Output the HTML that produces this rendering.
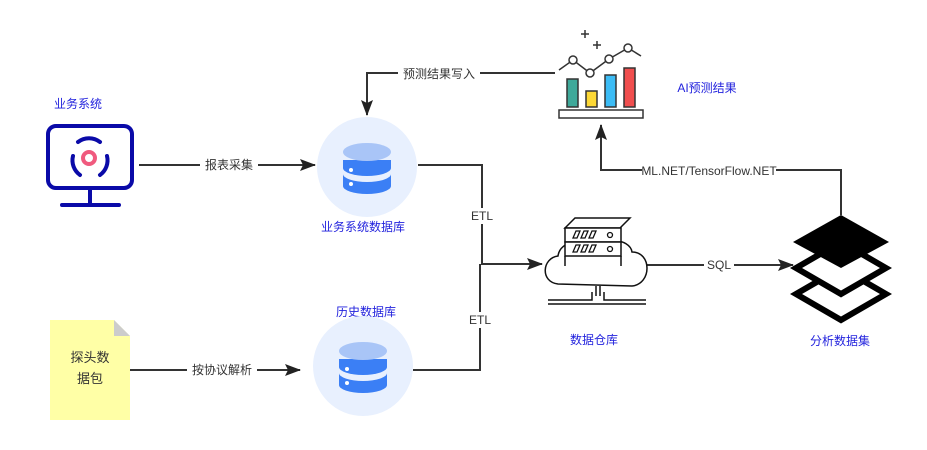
<!DOCTYPE html>
<html><head><meta charset="utf-8"><style>
html,body{margin:0;padding:0;background:#fff;}
svg text{font-family:"Liberation Sans","Noto Sans CJK SC",sans-serif;font-size:12px;}
</style></head><body>
<svg width="927" height="445" viewBox="0 0 927 445" xmlns="http://www.w3.org/2000/svg">
<defs><marker id="a" markerWidth="16" markerHeight="12" refX="15" refY="6" orient="auto" markerUnits="userSpaceOnUse"><path d="M0,0 L16,6 L0,12 L3,6 z" fill="#222"/></marker></defs>
<!-- note -->
<path d="M50,320 H114 L130,336 V420 H50 Z" fill="#ffffa6"/><path d="M114,320 L130,336 H114 Z" fill="#ccc"/>
<g stroke="#333" stroke-width="2" fill="none">
<path d="M139,165 H315" marker-end="url(#a)"/>
<path d="M555,73 H367 V115" marker-end="url(#a)"/>
<path d="M418,165 H482 V264 H542" marker-end="url(#a)"/>
<path d="M413,370 H480 V264"/>
<path d="M645,265 H793" marker-end="url(#a)"/>
<path d="M841,215 V170 H601 V125" marker-end="url(#a)"/>
<path d="M130,370 H300" marker-end="url(#a)"/>
</g>
<g fill="#fff"><rect x="200" y="157" width="58" height="16"/><rect x="398" y="66" width="82" height="16"/><rect x="470" y="208" width="24" height="16"/><rect x="468" y="312" width="24" height="16"/><rect x="704" y="257" width="30" height="16"/><rect x="642" y="162" width="134" height="16"/><rect x="187" y="362" width="70" height="16"/></g>
<g fill="#333" text-anchor="middle">
<text x="229" y="169">报表采集</text><text x="439" y="78">预测结果写入</text><text x="482" y="220">ETL</text><text x="480" y="324">ETL</text><text x="719" y="269">SQL</text><text x="709" y="175">ML.NET/TensorFlow.NET</text><text x="222" y="374">按协议解析</text>
<text x="90" y="362" style="font-size:13px">探头数</text><text x="90" y="383" style="font-size:13px">据包</text>
</g>
<g fill="#2222dd" text-anchor="middle">
<text x="78" y="108">业务系统</text><text x="707" y="92">AI预测结果</text><text x="363" y="231">业务系统数据库</text><text x="366" y="316">历史数据库</text><text x="594" y="344">数据仓库</text><text x="840" y="345">分析数据集</text>
</g>
<!-- monitor -->
<g stroke="#0a0aa8" stroke-width="4" fill="none" stroke-linecap="round">
<rect x="48" y="126" width="84" height="62" rx="8"/><path d="M90,188 V205 M62,205 H119"/>
<path d="M78,142 A18,18 0 0 1 100,142"/><path d="M73,156 A18,18 0 0 0 80,175"/><path d="M100,175 A18,18 0 0 0 107,156"/>
</g>
<circle cx="89" cy="158" r="6" fill="none" stroke="#f05a7e" stroke-width="4"/>
<!-- db1 -->
<circle cx="367" cy="167" r="50" fill="#e8f0fe"/>
<g transform="translate(367,168)"><path d="M-24,-8 H24 V0 A24,8 0 0 1 -24,0 Z" fill="#3b7ff5"/><path d="M-24,6 A24,8 0 0 0 24,6 V18 A24,8 0 0 1 -24,18 Z" fill="#3b7ff5"/><ellipse cx="0" cy="-16" rx="24" ry="9" fill="#a9c5f7"/><circle cx="-16" cy="2" r="2" fill="#fff"/><circle cx="-16" cy="16" r="2" fill="#fff"/></g>
<!-- db2 -->
<circle cx="363" cy="366" r="50" fill="#e8f0fe"/>
<g transform="translate(363,367)"><path d="M-24,-8 H24 V0 A24,8 0 0 1 -24,0 Z" fill="#3b7ff5"/><path d="M-24,6 A24,8 0 0 0 24,6 V18 A24,8 0 0 1 -24,18 Z" fill="#3b7ff5"/><ellipse cx="0" cy="-16" rx="24" ry="9" fill="#a9c5f7"/><circle cx="-16" cy="2" r="2" fill="#fff"/><circle cx="-16" cy="16" r="2" fill="#fff"/></g>
<!-- chart -->
<g stroke="#333" stroke-width="1.5">
<rect x="567" y="79" width="11" height="28" fill="#3fa99a"/><rect x="586" y="91" width="11" height="16" fill="#fdd835"/><rect x="605" y="75" width="11" height="32" fill="#3cbcf5"/><rect x="624" y="68" width="11" height="39" fill="#f04e4e"/>
<rect x="559" y="110" width="84" height="8" fill="#fff"/>
<path d="M559,70 L573,60 L590,73 L609,59 L628,48 L641,56" fill="none"/>
<circle cx="573" cy="60" r="4" fill="#fff"/><circle cx="590" cy="73" r="4" fill="#fff"/><circle cx="609" cy="59" r="4" fill="#fff"/><circle cx="628" cy="48" r="4" fill="#fff"/>
<path d="M585,30 V38 M581,34 H589 M597,41 V49 M593,45 H601" fill="none"/>
</g>
<!-- warehouse -->
<g stroke="#111" stroke-width="1.5" fill="#fff">
<path d="M558,284 C540,282 542,258 558,256 C560,240 585,238 592,248 C600,236 630,238 632,252 C652,252 652,284 632,286 Z"/>
<path d="M565,228 L575,218 H630 L620,228 Z"/>
<rect x="565" y="228" width="56" height="14"/><rect x="565" y="242" width="56" height="14"/>
<path d="M565,256 V266 M621,256 V266" fill="none"/>
<path d="M596,286 V296 M600,286 V296 M548,300 H592 V292 M604,292 V300 H646 M548,304 H646" fill="none"/>
</g>
<g fill="none" stroke="#111" stroke-width="1.3">
<path d="M573,238 L576,231 H580 L577,238 Z M581,238 L584,231 H588 L585,238 Z M589,238 L592,231 H596 L593,238 Z"/>
<path d="M573,252 L576,245 H580 L577,252 Z M581,252 L584,245 H588 L585,252 Z M589,252 L592,245 H596 L593,252 Z"/>
<circle cx="610" cy="235" r="2.5"/><circle cx="610" cy="249" r="2.5"/>
</g>
<!-- layers -->
<path d="M841,268 L796,294 L841,320 L886,294 Z" fill="none" stroke="#000" stroke-width="6"/>
<path d="M841,242 L796,268 L841,294 L886,268 Z" fill="#fff" stroke="#000" stroke-width="6"/>
<path d="M841,215 L793,242 L841,268 L889,242 Z" fill="#000"/>
</svg>
</body></html>
